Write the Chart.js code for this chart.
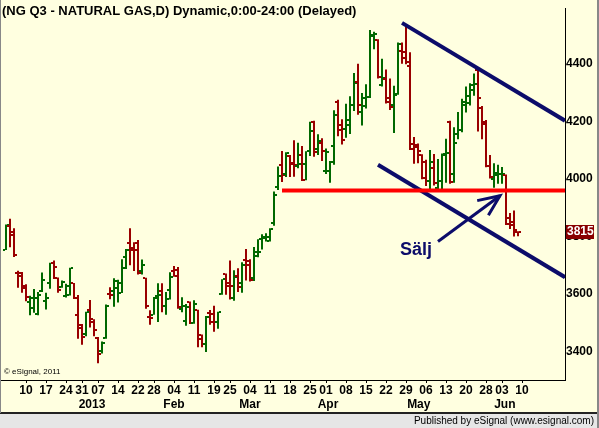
<!DOCTYPE html>
<html>
<head>
<meta charset="utf-8">
<script src="https://cdn.jsdelivr.net/npm/chart.js@4.4.0/dist/chart.umd.min.js"></script>
<style>
html, body { margin: 0; padding: 0; background: #ffffe0; }
canvas { display: block; }
</style>
</head>
<body>
<canvas id="c" width="599" height="428"></canvas>
<script>
// daily bars, index 0 = 3 Dec 2012 ... 128 = 7 Jun 2013
var opens = [3755,3838,3806,3675,3675,3627,3573,3553,3530,3610, 3577,3638,3709,3656,3625,3593,3597,3638,3528,3483,
    3462,3546,3502,3449,3401,3449,3600,3610,3620,3604, 3729,3777,3760,3778,3680,3655,3519,3528,3593,3610,
    3560,3615,3682,3685,3550,3508,3571,3499,3544,3457, 3428,3535,3531,3502,3599,3670,3640,3588,3662,3638,
    3717,3702,3657,3732,3790,3795,3786,3846,3974,4050, 4016,4080,4056,4044,4084,4052,4098,4199,4103,4125,
    4027,4029,4115,4267,4169,4174,4189,4256,4339,4233, 4254,4284,4497,4484,4327,4348,4282,4257,4297,4446,
    4441,4392,4123,4110,4084,4061,3995,4038,3970,3995, 4084,4200,4019,4157,4172,4256,4288,4310,4378,4248,
    4191,4044,4001,4015,4016,4013,3863,3851,3817];
var highs = [3842,3862,3829,3681,3677,3634,3594,3618,3607,3675, 3605,3709,3717,3658,3647,3636,3692,3639,3597,3496,
    3539,3580,3513,3451,3435,3564,3624,3655,3650,3721, 3757,3829,3780,3788,3720,3657,3544,3590,3638,3638,
    3607,3676,3698,3694,3589,3566,3574,3579,3546,3460, 3524,3545,3560,3539,3652,3672,3717,3683,3690,3711,
    3757,3721,3764,3791,3808,3812,3829,3957,4044,4098, 4093,4084,4135,4126,4115,4097,4199,4203,4156,4142,
    4106,4063,4239,4276,4208,4262,4288,4369,4401,4299, 4330,4518,4512,4486,4418,4381,4350,4324,4475,4475,
    4537,4441,4146,4124,4086,4067,4101,4087,4070,4089, 4140,4203,4180,4233,4279,4322,4333,4367,4381,4254,
    4205,4084,4055,4050,4042,4016,3882,3891,3819];
var lows = [3753,3763,3729,3622,3605,3575,3527,3535,3527,3607, 3547,3619,3653,3605,3622,3588,3595,3583,3445,3424,
    3454,3484,3454,3360,3394,3445,3582,3556,3571,3604, 3687,3700,3680,3668,3668,3549,3494,3528,3503,3537,
    3528,3581,3660,3549,3537,3490,3496,3497,3415,3415, 3399,3494,3469,3480,3598,3598,3581,3577,3607,3605,
    3647,3644,3646,3728,3755,3783,3783,3838,3962,3990, 4007,4007,4008,4038,3993,3996,4080,4078,4084,4063,
    4018,3987,4050,4149,4120,4144,4157,4237,4224,4186, 4245,4282,4451,4350,4322,4263,4240,4160,4293,4401,
    4399,4101,4053,4055,3999,3976,3961,3978,3957,3965, 3987,3984,3987,4138,4163,4231,4256,4290,4165,4138,
    4041,4002,3970,3984,3984,3840,3826,3800,3801];
var closes = [3840,3817,3736,3664,3621,3589,3587,3585,3596,3650, 3586,3708,3696,3613,3643,3630,3691,3585,3491,3451,
    3537,3514,3476,3392,3430,3559,3598,3644,3638,3691, 3755,3753,3755,3675,3700,3559,3517,3588,3596,3559,
    3584,3658,3662,3555,3560,3556,3501,3564,3445,3428, 3522,3503,3503,3537,3651,3627,3630,3661,3626,3702,
    3715,3648,3746,3745,3800,3800,3826,3945,4010,4015, 4089,4052,4050,4053,3996,4097,4168,4093,4131,4097,
    4095,4061,4224,4189,4136,4206,4256,4334,4256,4283, 4284,4501,4506,4356,4350,4268,4251,4293,4471,4421,
    4407,4106,4120,4098,4002,3995,4059,3987,3993,4087, 4090,3990,4127,4169,4269,4265,4327,4329,4282,4197,
    4046,4007,4021,4018,4019,3843,3840,3823,3815];

// x axis: week starts (bar index) and their day labels
var tickIdx = [5,10,15,19,23,28,33,37,42,47,52,56,61,66,71,76,80,85,90,95,100,105,110,115,120,124,129];
var tickLabels = ["10","17","24","31","07","14","22","28","04","11","19","25","04","11","18","25","01","08","15","22","29","06","13","20","28","03","10"];
var monthLabels = ["2013","Feb","Mar","Apr","May","Jun"];
var monthIdx = [21.5, 42, 61, 80.5, 103.2, 124.7];
var yTicks = [3400,3600,3800,4000,4200,4400];

// drawn lines (bar index, price)
var supportX = [69, 139.75], supportY = [3960, 3960];
var upperX = [99, 139.75], upperY = [4543, 4203];
var lowerX = [93, 139.75], lowerY = [4050, 3659];
var shaftX = [108, 123.5], shaftY = [3783, 3942];
var headX = [117.8, 123.5, 120.6], headY = [3925, 3942, 3874];
var signText = "Sälj", signX = 98.5, signY = 3737;
var lastPrice = 3815;

var FONT = "'Liberation Sans', Arial, sans-serif";
var UP = "#006800", DOWN = "#990000", NAVY = "#0c0c6a";

function pts(xs, ys) {
    return xs.map(function (x, i) { return {x: x, y: ys[i]}; });
}
var barColors = closes.map(function (c, i) { return c >= opens[i] ? UP : DOWN; });

var bgPlugin = {
    id: 'bg',
    beforeDraw: function (chart) {
        var ctx = chart.ctx;
        ctx.save();
        ctx.fillStyle = "#ffffe0";
        ctx.fillRect(0, 0, chart.width, chart.height);
        ctx.restore();
    }
};

var ohlcTicks = {
    id: 'ohlcTicks',
    afterDatasetDraw: function (chart, args) {
        if (args.index !== 0) return;
        var ctx = chart.ctx, xs = chart.scales.x, ys = chart.scales.y;
        ctx.save();
        for (var i = 0; i < opens.length; i++) {
            var x = Math.round(xs.getPixelForValue(i));
            ctx.fillStyle = barColors[i];
            ctx.fillRect(x - 3, Math.round(ys.getPixelForValue(opens[i])) - 1, 2, 2);
            ctx.fillRect(x + 1, Math.round(ys.getPixelForValue(closes[i])) - 1, 2, 2);
        }
        ctx.restore();
    }
};

var extras = {
    id: 'extras',
    afterDraw: function (chart) {
        var ctx = chart.ctx, xs = chart.scales.x, ys = chart.scales.y;
        ctx.save();
        // title
        ctx.fillStyle = "#000";
        ctx.font = "bold 13px " + FONT;
        ctx.textAlign = "left";
        ctx.textBaseline = "middle";
        ctx.fillText("(NG Q3 - NATURAL GAS,D) Dynamic,0:00-24:00 (Delayed)", 2, 11);
        // copyright
        ctx.font = "8px " + FONT;
        ctx.fillText("\u00a9 eSignal, 2011", 4, 372);
        // month row
        ctx.font = "bold 12px " + FONT;
        ctx.textAlign = "center";
        for (var i = 0; i < monthLabels.length; i++) {
            ctx.fillText(monthLabels[i], xs.getPixelForValue(monthIdx[i]), 405);
        }
        // sell label
        ctx.fillStyle = NAVY;
        ctx.font = "bold 18px " + FONT;
        ctx.textAlign = "left";
        ctx.textBaseline = "alphabetic";
        ctx.fillText(signText, xs.getPixelForValue(signX), ys.getPixelForValue(signY));
        // last price box
        var py = Math.round(ys.getPixelForValue(lastPrice));
        ctx.fillStyle = "#880000";
        ctx.fillRect(566, py - 7, 28, 14);
        ctx.fillStyle = "#fff";
        ctx.font = "bold 12px " + FONT;
        ctx.textAlign = "left";
        ctx.textBaseline = "middle";
        ctx.fillText(String(lastPrice), 567, py);
        // footer
        ctx.fillStyle = "#e6e6e6";
        ctx.fillRect(0, 413, chart.width, chart.height - 413);
        ctx.fillStyle = "#222";
        ctx.fillRect(0, 412, chart.width, 2);
        ctx.fillStyle = "#000";
        ctx.font = "10px " + FONT;
        ctx.textAlign = "right";
        ctx.fillText("Published by eSignal (www.esignal.com)", 594, 421);
        // frame
        ctx.fillStyle = "#888";
        ctx.fillRect(0, 0, 1, 413);
        ctx.fillRect(597, 0, 2, 428);
        ctx.restore();
    }
};

function lineSet(xs, ys, color, width) {
    return {
        type: 'line',
        data: pts(xs, ys),
        borderColor: color,
        borderWidth: width,
        pointRadius: 0,
        fill: false,
        tension: 0,
        order: 0
    };
}

new Chart(document.getElementById('c'), {
    type: 'bar',
    data: {
        datasets: [
            {
                data: highs.map(function (h, i) { return {x: i, y: [lows[i], h]}; }),
                backgroundColor: barColors,
                borderWidth: 0,
                barThickness: 2,
                inflateAmount: 0,
                order: 1
            },
            lineSet(supportX, supportY, "#ff0000", 4),
            lineSet(upperX, upperY, NAVY, 4),
            lineSet(lowerX, lowerY, NAVY, 4),
            lineSet(shaftX, shaftY, NAVY, 3),
            lineSet(headX, headY, NAVY, 3)
        ]
    },
    options: {
        responsive: false,
        animation: false,
        layout: { padding: 0 },
        plugins: { legend: { display: false }, tooltip: { enabled: false } },
        scales: {
            x: {
                type: 'linear',
                min: -1.5,
                max: 139.75,
                offset: false,
                grid: { display: true, drawOnChartArea: false, drawTicks: true, tickLength: 3, color: '#000', offset: false },
                border: { display: true, color: '#000', width: 1 },
                afterBuildTicks: function (s) { s.ticks = tickIdx.map(function (v) { return {value: v}; }); },
                afterFit: function (s) { s.height = 48; },
                ticks: {
                    autoSkip: false,
                    maxRotation: 0,
                    padding: 0,
                    color: '#000',
                    font: { family: FONT, size: 12, weight: 'bold' },
                    callback: function (v) { return tickLabels[tickIdx.indexOf(v)]; }
                }
            },
            y: {
                type: 'linear',
                position: 'right',
                min: 3301.5,
                max: 4594,
                grid: { display: false, drawTicks: false },
                border: { display: true, color: '#000', width: 1 },
                afterBuildTicks: function (s) { s.ticks = yTicks.map(function (v) { return {value: v}; }); },
                afterFit: function (s) { s.width = 34; },
                ticks: {
                    padding: 1,
                    color: '#000',
                    font: { family: FONT, size: 12, weight: 'bold' },
                    callback: function (v) { return String(v); }
                }
            }
        }
    },
    plugins: [bgPlugin, ohlcTicks, extras]
});
</script>
</body>
</html>
